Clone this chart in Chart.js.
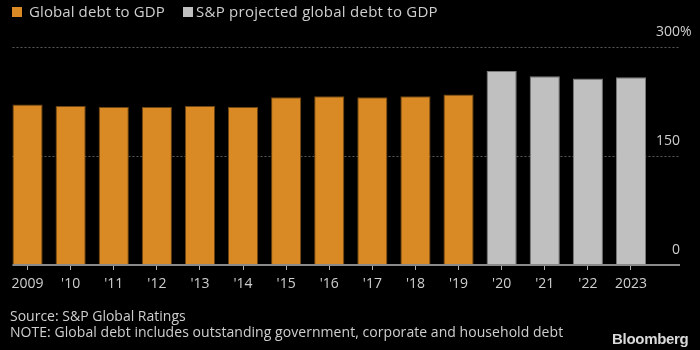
<!DOCTYPE html>
<html>
<head>
<meta charset="utf-8">
<script src="https://cdn.jsdelivr.net/npm/chart.js@4"></script>
<style>
  html, body { margin: 0; padding: 0; background: #000; }
  #wrap { position: relative; width: 700px; height: 350px; background: #000; overflow: hidden; font-family: "Open Sans", sans-serif; color: #cfcfcf; }
  #c { position: absolute; left: 0; top: 0; }
  .t { position: absolute; white-space: nowrap; line-height: 1; }
  .box { position: absolute; width: 10px; height: 10px; }
</style>
</head>
<body>
<div id="wrap">
  <canvas id="c" width="700" height="350"></canvas>
  <div class="box" style="left:12px; top:7px; background:#DA8A24;"></div>
  <div class="t" style="left:29px; top:4px; font-size:15px; letter-spacing:0.1px;">Global debt to GDP</div>
  <div class="box" style="left:183px; top:7px; background:#C0C0C0;"></div>
  <div class="t" style="left:196px; top:4px; font-size:15px; letter-spacing:0.25px;">S&amp;P projected global debt to GDP</div>
  <div class="t" style="left:10px; top:309px; font-size:14px;">Source: S&amp;P Global Ratings</div>
  <div class="t" style="left:10px; top:325px; font-size:14px; letter-spacing:0.05px;">NOTE: Global debt includes outstanding government, corporate and household debt</div>
  <div class="t" style="left:612px; top:331px; font-size:15px; font-weight:bold; font-family:'Liberation Sans', Arial, sans-serif; color:#dadada; letter-spacing:-0.3px;">Bloomberg</div>
</div>
<script>
const categories = ["2009", "'10", "'11", "'12", "'13", "'14", "'15", "'16", "'17", "'18", "'19", "'20", "'21", "'22", "2023"];
const actualDebt = [220.8, 218.9, 217.5, 217.5, 218.9, 217.5, 230.9, 232.2, 230.9, 232.2, 234.6, null, null, null, null];
const projectedDebt = [null, null, null, null, null, null, null, null, null, null, null, 267, 259.7, 256.5, 258.3];
const yTicks = [0, 150, 300];

const overlay = {
  id: 'overlay',
  beforeDatasetsDraw(chart) {
    const ctx = chart.ctx;
    const y = chart.scales.y;
    const meta = chart.getDatasetMeta(0);
    const bar0 = meta.data[0];
    const left = bar0.x - bar0.width / 2;
    const right = chart.chartArea.right + 27.5;
    ctx.save();
    ctx.strokeStyle = '#5a5a5a';
    ctx.lineWidth = 1;
    ctx.setLineDash([2, 2]);
    yTicks.forEach(v => {
      if (v === 0) return;
      const py = Math.round(y.getPixelForValue(v)) + 0.5;
      ctx.beginPath();
      ctx.moveTo(left, py);
      ctx.lineTo(right, py);
      ctx.stroke();
    });
    ctx.restore();
  },
  afterDatasetsDraw(chart) {
    const ctx = chart.ctx;
    const y = chart.scales.y;
    const meta = chart.getDatasetMeta(0);
    const bar0 = meta.data[0];
    const left = bar0.x - bar0.width / 2;
    const right = chart.chartArea.right + 27.5;
    ctx.save();
    ctx.strokeStyle = '#8a8a8a';
    ctx.lineWidth = 2;
    const by = y.getPixelForValue(0);
    ctx.beginPath();
    ctx.moveTo(left, by);
    ctx.lineTo(right, by);
    ctx.stroke();
    ctx.fillStyle = '#cfcfcf';
    ctx.font = '14px "Open Sans", sans-serif';
    ctx.textBaseline = 'middle';
    yTicks.forEach(v => {
      const py = y.getPixelForValue(v) - 15;
      ctx.textAlign = 'right';
      ctx.fillText(String(v), right, py);
      if (v === 300) {
        ctx.textAlign = 'left';
        ctx.fillText('%', right, py);
      }
    });
    ctx.restore();
  }
};

new Chart(document.getElementById('c'), {
  type: 'bar',
  data: {
    labels: categories,
    datasets: [
      { label: 'Global debt to GDP', data: actualDebt, backgroundColor: '#DA8A24', borderColor: '#6e4612', borderWidth: 1 },
      { label: 'S&P projected global debt to GDP', data: projectedDebt, backgroundColor: '#C0C0C0', borderColor: '#7a7a7a', borderWidth: 1 }
    ]
  },
  options: {
    responsive: false,
    devicePixelRatio: 1,
    animation: false,
    datasets: { bar: { grouped: false, barPercentage: 0.7, categoryPercentage: 1.0 } },
    layout: { padding: { top: 47, left: 6, right: 47.5, bottom: 0 } },
    plugins: { legend: { display: false }, tooltip: { enabled: false } },
    scales: {
      x: {
        grid: { display: true, offset: false, drawOnChartArea: false, drawTicks: true, tickLength: 5, color: '#b0b0b0', tickColor: '#b0b0b0' },
        border: { display: false },
        ticks: { color: '#cfcfcf', font: { family: 'Open Sans', size: 14 }, padding: 6, maxRotation: 0, autoSkip: false },
        afterFit(s) { s.height = 85; }
      },
      y: {
        display: false,
        min: 0,
        max: 300,
        ticks: { stepSize: 150 }
      }
    }
  },
  plugins: [overlay]
});
</script>
</body>
</html>
